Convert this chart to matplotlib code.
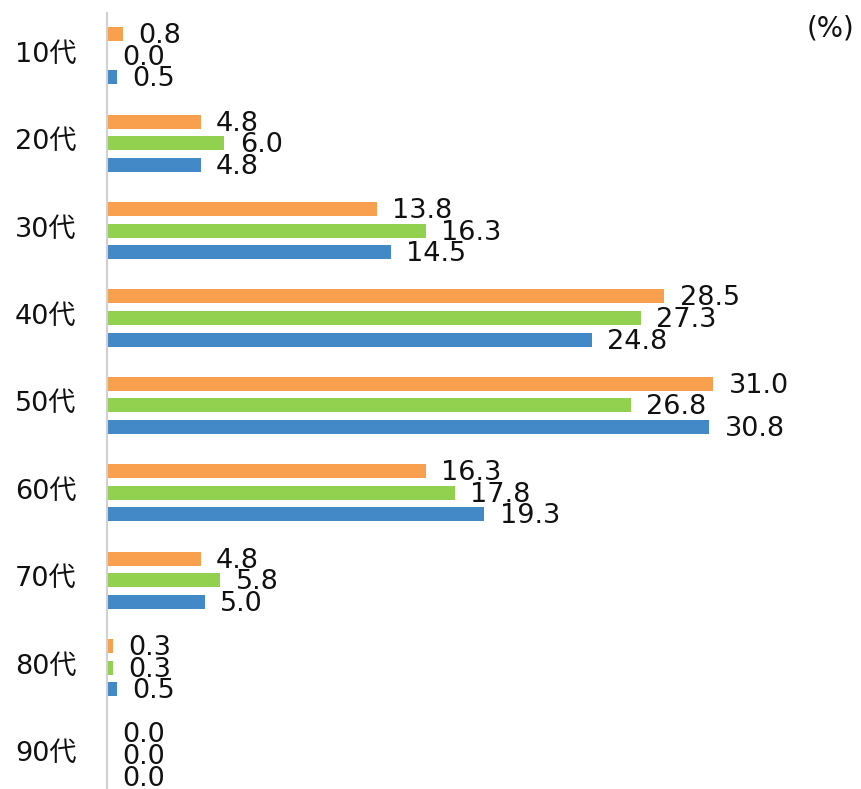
import numpy as np
import matplotlib.pyplot as plt
import matplotlib.transforms as mtransforms

plt.rcParams['font.family'] = ['DejaVu Sans', 'Noto Sans CJK JP']

# data
categories = ['10代', '20代', '30代', '40代', '50代', '60代', '70代', '80代', '90代']
orange_vals = [0.8, 4.8, 13.8, 28.5, 31.0, 16.3, 4.8, 0.3, 0.0]
green_vals = [0.0, 6.0, 16.3, 27.3, 26.8, 17.8, 5.8, 0.3, 0.0]
blue_vals = [0.5, 4.8, 14.5, 24.8, 30.8, 19.3, 5.0, 0.5, 0.0]

colors = ['#F9A04E', '#92D050', '#4389C8']
series = [orange_vals, green_vals, blue_vals]

fig = plt.figure(figsize=(8.62, 7.89), dpi=100)
ax = fig.add_axes([107 / 862, 0.0, 1 - 107 / 862, 1 - 13 / 789])

y = np.arange(len(categories))
step = 0.247
height = 0.16

for k, (vals, col) in enumerate(zip(series, colors)):
    pos = y + (k - 1) * step
    ax.barh(pos, vals, height=height, color=col)
    for yy, v in zip(pos, vals):
        ax.annotate(f"{v:.1f}", xy=(v, yy), xytext=(11, -1.5), textcoords='offset points',
                    ha='left', va='center', fontsize=19.5, color='#111111')

ax.set_xlim(0, 38.6)
ax.set_ylim(8.39, -0.49)
ax.set_yticks(y)
ax.set_yticklabels(categories, fontsize=19.5, color='#111111')
ax.tick_params(axis='y', length=0, pad=22)
ax.set_xticks([])

# nudge category labels up a little
shift = mtransforms.ScaledTranslation(0, 4 / 100, fig.dpi_scale_trans)
for lbl in ax.get_yticklabels():
    lbl.set_transform(lbl.get_transform() + shift)

for s in ['top', 'right', 'bottom']:
    ax.spines[s].set_visible(False)
ax.spines['left'].set_color('#D0D0D0')
ax.spines['left'].set_linewidth(1.5)

fig.text(831 / 862, 1 - 28 / 789, '(%)', ha='center', va='center', fontsize=20, color='#111111')

fig.savefig('out.png', dpi=100)
